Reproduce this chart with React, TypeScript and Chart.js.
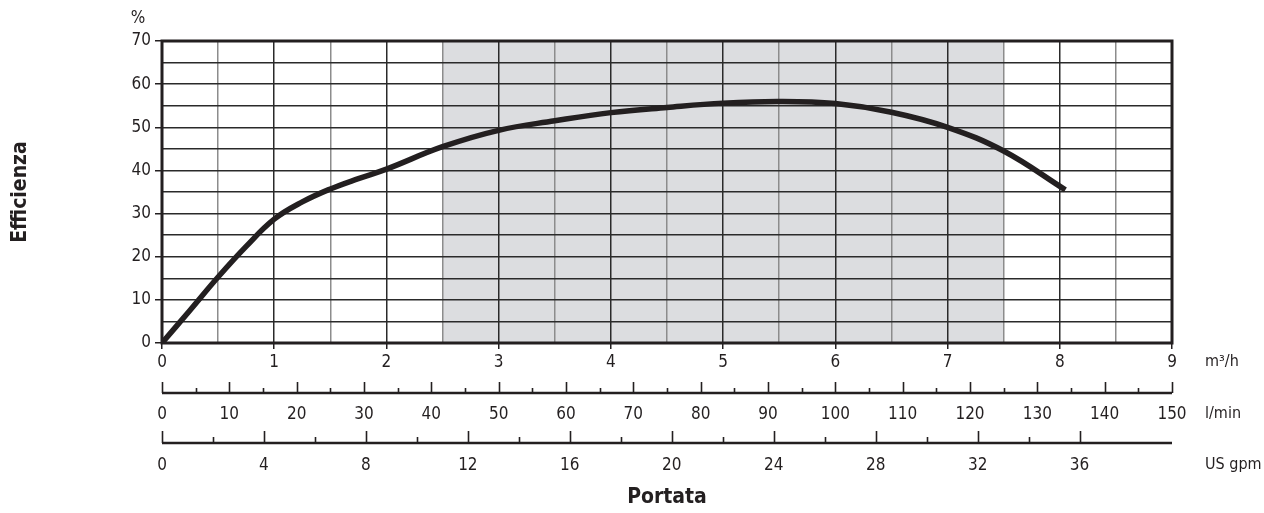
import React, { useEffect, useRef } from "react";
import { Chart, registerables } from "chart.js";

Chart.register(...registerables);

// Efficiency curve: flow (m³/h) vs efficiency (%)
const flowM3h = [0, 0.25, 0.5, 0.75, 1, 1.25, 1.5, 1.75, 2, 2.5, 3, 3.5, 4, 4.5, 5, 5.5, 6, 6.5, 7, 7.5, 8.05];
const efficiency = [0, 7.6, 15.3, 22.4, 28.7, 32.7, 35.7, 38.1, 40.3, 45.5, 49.3, 51.5, 53.4, 54.6, 55.6, 56.0, 55.5, 53.5, 50, 44.5, 35.5];

// Axis ranges
const m3hRange = [0, 9];
const lminRange = [0, 150];
const gpmRange = [0, 9 / 0.2271247];
const effRange = [0, 70];
const shadedBand = [2.5, 7.5];

// Texts
const yTitle = "Efficienza";
const xTitle = "Portata";
const unitLabels = ["m³/h", "l/min", "US gpm"];
const yUnit = "%";

const TEXT = "#231f20";
const FONT = '"Liberation Sans Narrow", "DejaVu Sans Condensed", "Roboto", sans-serif';
const SHADE = "#dcdde0";
const FS = 17;
const HALF_LH = (FS * 1.2) / 2;

const isInt = (v: number) => Math.abs(v - Math.round(v)) < 1e-9;
const isMult = (v: number, m: number) => Math.abs(v / m - Math.round(v / m)) < 1e-9;

const decorPlugin = {
  id: "decor",
  beforeDraw(chart: any) {
    const { ctx, chartArea, scales } = chart;
    const x = scales.x;
    const l = x.getPixelForValue(shadedBand[0]);
    const r = x.getPixelForValue(shadedBand[1]);
    ctx.save();
    ctx.fillStyle = SHADE;
    ctx.fillRect(l, chartArea.top, r - l, chartArea.bottom - chartArea.top);
    ctx.restore();
  },
  afterDraw(chart: any) {
    const { ctx, chartArea, scales } = chart;
    ctx.save();
    // frame
    ctx.strokeStyle = TEXT;
    ctx.lineWidth = 3;
    ctx.strokeRect(chartArea.left, chartArea.top, chartArea.right - chartArea.left, chartArea.bottom - chartArea.top);

    const drawAxis = (s: any, step: number, major: number, majLen: number, minLen: number) => {
      const lineY = s.top + 18;
      ctx.strokeStyle = TEXT;
      ctx.lineWidth = 2.5;
      ctx.beginPath();
      ctx.moveTo(chartArea.left, lineY);
      ctx.lineTo(chartArea.right, lineY);
      ctx.stroke();
      ctx.lineWidth = 1.6;
      s.ticks.forEach((t: any) => {
        if (!isMult(t.value, step)) return;
        const px = Math.round(s.getPixelForValue(t.value)) + 0.5;
        const len = isMult(t.value, major) ? majLen : minLen;
        ctx.beginPath();
        ctx.moveTo(px, lineY);
        ctx.lineTo(px, lineY - len);
        ctx.stroke();
      });
    };
    drawAxis(scales.x2, 5, 10, 11, 5);
    drawAxis(scales.x3, 2, 4, 12, 6);

    // unit labels
    ctx.fillStyle = TEXT;
    ctx.font = `16px ${FONT}`;
    ctx.textAlign = "left";
    ctx.textBaseline = "middle";
    const ux = chartArea.right + 33;
    ctx.fillText(unitLabels[0], ux, scales.x.top + 6 + 3 + HALF_LH);
    ctx.fillText(unitLabels[1], ux, scales.x2.top + 29 + HALF_LH);
    ctx.fillText(unitLabels[2], ux, scales.x3.top + 30 + HALF_LH);

    // % label
    ctx.font = `${FS}px ${FONT}`;
    ctx.textAlign = "center";
    ctx.fillText(yUnit, chartArea.left - 24, chartArea.top - 22);
    ctx.restore();
  },
};

export default function App() {
  const ref = useRef<HTMLCanvasElement | null>(null);
  useEffect(() => {
    if (!ref.current) return;
    const tickFont = { family: FONT, size: FS };
    const chart = new Chart(ref.current, {
      type: "line",
      data: {
        datasets: [
          {
            data: flowM3h.map((x, i) => ({ x, y: efficiency[i] })),
            borderColor: TEXT,
            borderWidth: 5.5,
            pointRadius: 0,
            tension: 0.4,
            borderCapStyle: "butt",
            fill: false,
            xAxisID: "x",
            yAxisID: "y",
          } as any,
        ],
      },
      options: {
        animation: false,
        responsive: true,
        maintainAspectRatio: false,
        layout: { padding: { left: 0, right: 92, top: 41, bottom: 0 } },
        plugins: { legend: { display: false }, tooltip: { enabled: false } },
        scales: {
          x: {
            type: "linear",
            position: "bottom",
            weight: 0,
            min: m3hRange[0],
            max: m3hRange[1],
            ticks: {
              stepSize: 0.5,
              autoSkip: false,
              maxRotation: 0,
              padding: 3,
              color: TEXT,
              font: tickFont,
              callback: (v: any) => (isInt(Number(v)) ? String(v) : ""),
            },
            grid: {
              color: (c: any) => (c.tick && !isInt(c.tick.value) ? "#8c8c8c" : "#2a2a2a"),
              lineWidth: 1.5,
              drawTicks: true,
              tickLength: 6,
              tickWidth: 1.5,
              tickColor: (c: any) => (c.tick && isInt(c.tick.value) ? TEXT : "rgba(0,0,0,0)"),
            },
            border: { display: false },
            afterFit: (s: any) => {
              s.height = 32;
            },
          },
          x2: {
            type: "linear",
            position: "bottom",
            weight: 1,
            min: lminRange[0],
            max: lminRange[1],
            ticks: {
              stepSize: 5,
              autoSkip: false,
              maxRotation: 0,
              padding: 29,
              color: TEXT,
              font: tickFont,
              callback: (v: any) => (isMult(Number(v), 10) ? String(v) : ""),
            },
            grid: { display: false, drawTicks: false, drawOnChartArea: false },
            border: { display: false },
            afterFit: (s: any) => {
              s.height = 50;
            },
          },
          x3: {
            type: "linear",
            position: "bottom",
            weight: 2,
            min: gpmRange[0],
            max: gpmRange[1],
            ticks: {
              stepSize: 2,
              autoSkip: false,
              maxRotation: 0,
              padding: 30,
              color: TEXT,
              font: tickFont,
              callback: (v: any) => (isMult(Number(v), 4) ? String(v) : ""),
            },
            grid: { display: false, drawTicks: false, drawOnChartArea: false },
            border: { display: false },
            title: {
              display: true,
              text: xTitle,
              color: TEXT,
              font: { family: FONT, size: 21, weight: "bold" },
              padding: { top: 0, bottom: 3 },
            },
            afterFit: (s: any) => {
              s.height = 88;
            },
          },
          y: {
            type: "linear",
            position: "left",
            min: effRange[0],
            max: effRange[1],
            ticks: {
              stepSize: 5,
              autoSkip: false,
              padding: 4,
              color: TEXT,
              font: tickFont,
              callback: (v: any) => (isMult(Number(v), 10) ? String(v) : ""),
            },
            grid: {
              color: "#2a2a2a",
              lineWidth: 1.5,
              drawTicks: true,
              tickLength: 7,
              tickWidth: 1.5,
              tickColor: (c: any) => (c.tick && isMult(c.tick.value, 10) ? TEXT : "rgba(0,0,0,0)"),
            },
            border: { display: false },
            title: {
              display: true,
              text: yTitle,
              color: TEXT,
              font: { family: FONT, size: 21, weight: "bold" },
              padding: { top: 8, bottom: 0 },
            },
            afterFit: (s: any) => {
              s.width = 162;
            },
          },
        },
      } as any,
      plugins: [decorPlugin],
    });
    return () => chart.destroy();
  }, []);

  return (
    <div style={{ position: "fixed", left: 0, top: 0, width: 1264, height: 513, background: "#fff" }}>
      <canvas ref={ref} />
    </div>
  );
}
